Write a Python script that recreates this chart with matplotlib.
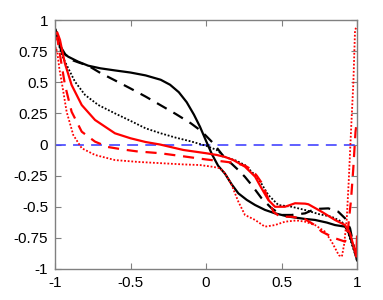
import matplotlib
matplotlib.use("Agg")
import matplotlib.pyplot as plt

# black solid
x_k_solid = [-1.0, -0.99, -0.975, -0.956, -0.912, -0.846, -0.78, -0.7, -0.603,
             -0.5, -0.4, -0.3, -0.238, -0.18, -0.128, -0.08, -0.04, 0.0, 0.04,
             0.08, 0.126, 0.17, 0.214, 0.27, 0.325, 0.39, 0.457, 0.55, 0.656,
             0.722, 0.8, 0.854, 0.921, 0.942, 0.965, 0.987, 1.0]
y_k_solid = [0.93, 0.9, 0.82, 0.745, 0.705, 0.665, 0.633, 0.612, 0.595,
             0.578, 0.555, 0.52, 0.48, 0.42, 0.34, 0.24, 0.143, 0.03, -0.08,
             -0.17, -0.235, -0.32, -0.392, -0.445, -0.486, -0.525, -0.553, -0.58, -0.598,
             -0.606, -0.627, -0.647, -0.66, -0.7, -0.78, -0.86, -0.93]

# black dashed
x_k_dash = [-1.0, -0.99, -0.97, -0.93, -0.88, -0.846, -0.78, -0.7, -0.603,
            -0.5, -0.4, -0.3, -0.2, -0.1, -0.04, 0.0, 0.049, 0.1, 0.126,
            0.17, 0.214, 0.258, 0.302, 0.368, 0.435, 0.501, 0.567, 0.656,
            0.722, 0.81, 0.876, 0.921, 0.954, 0.975, 1.0]
y_k_dash = [0.93, 0.9, 0.8, 0.72, 0.675, 0.66, 0.633, 0.575, 0.515,
            0.45, 0.385, 0.315, 0.245, 0.17, 0.116, 0.07, 0.009, -0.07, -0.115,
            -0.155, -0.205, -0.26, -0.325, -0.432, -0.513, -0.566, -0.566, -0.553,
            -0.518, -0.513, -0.54, -0.593, -0.673, -0.8, -0.93]

# black dotted
x_k_dot = [-1.0, -0.99, -0.975, -0.945, -0.912, -0.868, -0.801, -0.713, -0.603,
           -0.5, -0.4, -0.3, -0.2, -0.1, 0.0, 0.071, 0.126, 0.2, 0.258,
           0.346, 0.413, 0.479, 0.567, 0.656, 0.75, 0.832, 0.899, 0.932,
           0.965, 1.0]
y_k_dot = [0.93, 0.88, 0.8, 0.692, 0.612, 0.505, 0.398, 0.317, 0.25,
           0.19, 0.13, 0.09, 0.055, 0.025, -0.01, -0.044, -0.1, -0.13, -0.165,
           -0.272, -0.406, -0.486, -0.5, -0.526, -0.56, -0.58, -0.62, -0.673,
           -0.8, -0.93]

# red solid
x_r_solid = [-1.0, -0.985, -0.967, -0.95, -0.934, -0.89, -0.823, -0.735, -0.603,
             -0.5, -0.4, -0.305, -0.15, 0.0, 0.071, 0.126, 0.181, 0.258, 0.325,
             0.368, 0.413, 0.457, 0.523, 0.59, 0.656, 0.678, 0.766, 0.854,
             0.921, 0.954, 0.987, 0.995, 1.0]
y_r_solid = [0.88, 0.9, 0.84, 0.74, 0.65, 0.478, 0.317, 0.197, 0.09,
             0.05, 0.02, 0.0, -0.044, -0.07, -0.084, -0.1, -0.125, -0.178, -0.258,
             -0.352, -0.446, -0.5, -0.5, -0.472, -0.475, -0.48, -0.54, -0.606,
             -0.647, -0.713, -0.86, -0.9, -0.74]

# red dashed
x_r_dash = [-1.0, -0.985, -0.975, -0.956, -0.934, -0.89, -0.823, -0.735, -0.65,
            -0.55, -0.459, -0.305, -0.15, 0.0, 0.126, 0.2, 0.258, 0.3, 0.336,
            0.37, 0.402, 0.446, 0.49, 0.567, 0.656, 0.72, 0.766, 0.854, 0.921,
            0.94, 0.96, 0.975, 0.99, 1.0]
y_r_dash = [0.84, 0.86, 0.78, 0.64, 0.478, 0.263, 0.103, 0.023, -0.02,
            -0.04, -0.055, -0.07, -0.095, -0.12, -0.138, -0.15, -0.17, -0.2, -0.25,
            -0.31, -0.406, -0.54, -0.58, -0.58, -0.6, -0.647, -0.7, -0.753, -0.78,
            -0.68, -0.45, -0.2, 0.1, 0.2]

# red dotted
x_r_dot = [-1.0, -0.995, -0.985, -0.97, -0.956, -0.923, -0.879, -0.823, -0.735,
           -0.603, -0.45, -0.3, -0.15, -0.04, 0.05, 0.093, 0.126, 0.17, 0.214,
           0.258, 0.325, 0.39, 0.457, 0.523, 0.6, 0.656, 0.722, 0.788, 0.832,
           0.88, 0.9, 0.915, 0.932, 0.945, 0.96, 0.976, 0.987, 1.0]
y_r_dot = [0.65, 0.78, 0.74, 0.6, 0.505, 0.263, 0.076, -0.03, -0.084,
           -0.125, -0.14, -0.15, -0.16, -0.165, -0.18, -0.191, -0.23, -0.325, -0.459,
           -0.566, -0.606, -0.66, -0.647, -0.62, -0.61, -0.62, -0.647, -0.7, -0.78,
           -0.89, -0.9, -0.8, -0.6, -0.3, 0.1, 0.5, 0.92, 0.95]

x_ticks = [-1, -0.5, 0, 0.5, 1]
x_labels = ["-1", "-0.5", "0", "0.5", "1"]
y_ticks = [-1, -0.75, -0.5, -0.25, 0, 0.25, 0.5, 0.75, 1]
y_labels = ["-1", "-0.75", "-0.5", "-0.25", "0", "0.25", "0.5", "0.75", "1"]

plt.rcParams["font.family"] = ["Liberation Sans", "DejaVu Sans"]

fig = plt.figure(figsize=(3.83, 3.0), dpi=100)
ax = fig.add_axes([55 / 383, 31 / 300, 302 / 383, 249 / 300])

ax.axhline(0, color="#4040ff", lw=1.3, ls=(0, (6, 4)), alpha=0.9)

ax.plot(x_k_solid, y_k_solid, color="black", lw=1.6)
ax.plot(x_k_dash, y_k_dash, color="black", lw=1.6, ls=(0, (5, 3.5)))
ax.plot(x_k_dot, y_k_dot, color="black", lw=1.3, ls=(0, (1, 1)))
ax.plot(x_r_solid, y_r_solid, color="red", lw=1.6)
ax.plot(x_r_dash, y_r_dash, color="red", lw=1.6, ls=(0, (5, 3.5)))
ax.plot(x_r_dot, y_r_dot, color="red", lw=1.3, ls=(0, (1, 1)))

ax.set_xlim(-1, 1)
ax.set_ylim(-1, 1)
ax.set_xticks(x_ticks)
ax.set_xticklabels(x_labels)
ax.set_yticks(y_ticks)
ax.set_yticklabels(y_labels)
ax.tick_params(direction="in", length=4, width=0.8, color="#808080",
               top=True, right=True, labelsize=11, pad=5)
for s in ax.spines.values():
    s.set_color("#808080")
    s.set_linewidth(1.0)

fig.savefig("out.png", dpi=100)
